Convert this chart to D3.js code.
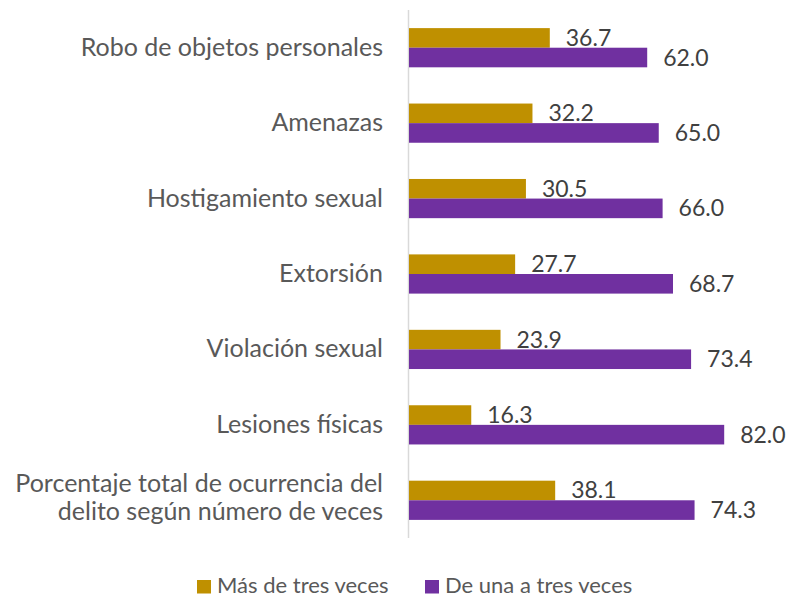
<!DOCTYPE html>
<html>
<head>
<meta charset="utf-8">
<script src="https://cdn.jsdelivr.net/npm/d3@7"></script>
<style>
  html, body { margin: 0; padding: 0; background: #fff; }
  svg { display: block; font-family: Lato, "Open Sans", sans-serif; }
</style>
</head>
<body>
<svg id="chart" width="789" height="597"></svg>
<script>
// Delito categories, top to bottom (last label spans two lines)
const categories = [
  ["Robo de objetos personales"],
  ["Amenazas"],
  ["Hostigamiento sexual"],
  ["Extorsión"],
  ["Violación sexual"],
  ["Lesiones físicas"],
  ["Porcentaje total de ocurrencia del", "delito según número de veces"]
];
const seriesNames = ["Más de tres veces", "De una a tres veces"];
const masDeTres = [36.7, 32.2, 30.5, 27.7, 23.9, 16.3, 38.1];
const deUnaATres = [62.0, 65.0, 66.0, 68.7, 73.4, 82.0, 74.3];
const colors = ["#BF9000", "#7030A0"];

const svg = d3.select("#chart");
const keys = categories.map((c, i) => i);

const x = d3.scaleLinear().domain([0, 100]).range([408.5, 793.5]);
const y = d3.scaleBand().domain(keys).range([10, 538]).padding(0);
const groupH = 39.2;
const inner = d3.scaleBand().domain([0, 1]).range([0, groupH]).padding(0);

const data = keys.map(i => ({ i, vals: [masDeTres[i], deUnaATres[i]] }));

// Vertical category axis line
svg.append("line")
  .attr("x1", x(0)).attr("x2", x(0))
  .attr("y1", 10).attr("y2", 538)
  .attr("stroke", "#D9D9D9").attr("stroke-width", 1.5);

const groups = svg.selectAll("g.grp").data(data).join("g")
  .attr("class", "grp")
  .attr("transform", d => `translate(0,${y(d.i) + (y.bandwidth() - groupH) / 2})`);

groups.selectAll("rect").data(d => d.vals.map((v, s) => ({ v, s }))).join("rect")
  .attr("x", x(0) + 0.5)
  .attr("y", d => inner(d.s))
  .attr("width", d => x(d.v) - x(0) - 0.5)
  .attr("height", inner.bandwidth())
  .attr("fill", d => colors[d.s]);

groups.selectAll("text.val").data(d => d.vals.map((v, s) => ({ v, s }))).join("text")
  .attr("class", "val")
  .attr("x", d => x(d.v) + 16)
  .attr("y", d => inner(d.s) + inner.bandwidth() / 2 + 8)
  .attr("font-size", 23)
  .attr("fill", "#404040")
  .text(d => d.v.toFixed(1));

// Category labels
const labels = svg.selectAll("text.cat").data(data).join("text")
  .attr("class", "cat")
  .attr("text-anchor", "end")
  .attr("font-size", 25)
  .attr("fill", "#595959");
labels.each(function(d) {
  const lines = categories[d.i];
  const cy = y(d.i) + y.bandwidth() / 2;
  const lh = 28;
  const t = d3.select(this);
  lines.forEach((ln, k) => {
    t.append("tspan")
      .attr("x", 383)
      .attr("y", cy + (lines.length > 1 ? 6 : 8) + (k - (lines.length - 1) / 2) * lh)
      .text(ln);
  });
});

// Legend
const legX = [197, 425];
const leg = svg.selectAll("g.leg").data(seriesNames).join("g")
  .attr("class", "leg")
  .attr("transform", (d, i) => `translate(${legX[i]},0)`);
leg.append("rect")
  .attr("x", 0).attr("y", 580)
  .attr("width", 14).attr("height", 13.5)
  .attr("fill", (d, i) => colors[i]);
leg.append("text")
  .attr("x", 20).attr("y", 593)
  .attr("font-size", 22)
  .attr("fill", "#595959")
  .text(d => d);
</script>
</body>
</html>
